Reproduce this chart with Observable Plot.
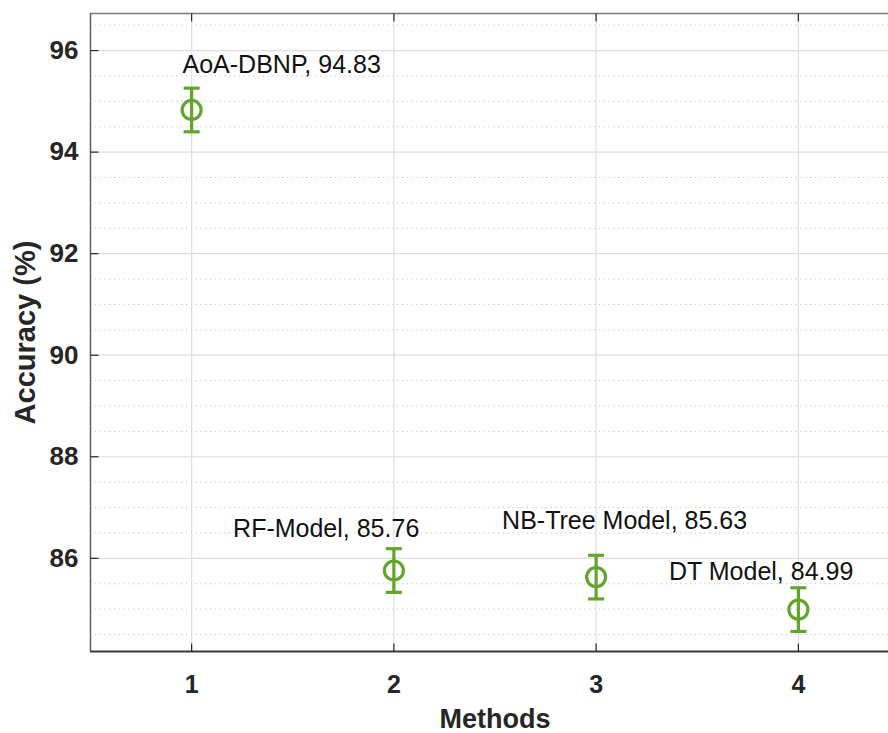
<!DOCTYPE html>
<html>
<head>
<meta charset="utf-8">
<script src="https://cdn.jsdelivr.net/npm/d3@7"></script>
<script src="https://cdn.jsdelivr.net/npm/@observablehq/plot@0.6"></script>
<style>
  html, body { margin: 0; padding: 0; background: white; overflow: hidden; width: 888px; }
  #chart { width: 888px; overflow: hidden; }
  #chart svg { max-width: none !important; }
</style>
</head>
<body>
<div id="chart"></div>
<script>
// ---- data ----
const methodNames = ["AoA-DBNP", "RF-Model", "NB-Tree Model", "DT Model"];
const methodIndex = [1, 2, 3, 4];
const accuracy = [94.83, 85.76, 85.63, 84.99];
const errorHalf = [0.43, 0.43, 0.43, 0.43];
// annotation anchor points (data units)
const labelX = [0.955, 1.205, 2.535, 3.36];
const labelY = [95.72, 86.58, 86.74, 85.74];
// axes
const xTicks = [1, 2, 3, 4];
const yTicks = [86, 88, 90, 92, 94, 96];
const xDomain = [0.5, 4.5];
const yDomain = [84.165, 96.73];
const xLabel = "Methods";
const yLabel = "Accuracy (%)";

const rows = methodIndex.map((x, i) => ({
  x, acc: accuracy[i], err: errorHalf[i],
  lx: labelX[i], ly: labelY[i],
  label: `${methodNames[i]}, ${accuracy[i].toFixed(2)}`
}));
const minorTicks = d3.range(84.5, 96.75, 0.5).filter(v => !yTicks.includes(v));

const green = "#63a42a";
const font = "'Liberation Sans', Arial, Helvetica, sans-serif";

const capSymbol = { draw(ctx) { ctx.moveTo(-8, 0); ctx.lineTo(8, 0); } };
const tickRight = { draw(ctx) { ctx.moveTo(0, 0); ctx.lineTo(8, 0); } };
const tickUp = { draw(ctx) { ctx.moveTo(0, 0); ctx.lineTo(0, -8); } };
const tickDown = { draw(ctx) { ctx.moveTo(0, 0); ctx.lineTo(0, 8); } };

const chart = Plot.plot({
  width: 901,
  height: 733,
  marginTop: 13,
  marginBottom: 82,
  marginLeft: 90,
  marginRight: 2,
  x: { domain: xDomain },
  y: { domain: yDomain },
  style: { fontFamily: font, background: "white" },
  marks: [
    Plot.gridY(minorTicks, { stroke: "#c4c4c4", strokeOpacity: 1, strokeWidth: 1, strokeDasharray: "1.3,3.5" }),
    Plot.gridY(yTicks, { stroke: "#dedede", strokeOpacity: 1, strokeWidth: 1.2 }),
    Plot.gridX(xTicks, { stroke: "#dedede", strokeOpacity: 1, strokeWidth: 1.2 }),
    Plot.ruleY([yDomain[1]], { stroke: "#7a7a7a", strokeWidth: 1.5 }),
    Plot.ruleX([xDomain[0]], { stroke: "#5e5e5e", strokeWidth: 1.5 }),
    Plot.ruleY([yDomain[0]], { stroke: "#3a3a3a", strokeWidth: 1.8 }),
    Plot.dot(yTicks, { y: d => d, frameAnchor: "left", symbol: tickRight, fill: "none", stroke: "#262626", strokeWidth: 1.2 }),
    Plot.dot(xTicks, { x: d => d, frameAnchor: "bottom", symbol: tickUp, fill: "none", stroke: "#262626", strokeWidth: 1.2 }),
    Plot.dot(xTicks, { x: d => d, frameAnchor: "top", symbol: tickDown, fill: "none", stroke: "#262626", strokeWidth: 1.2 }),
    Plot.axisY({ ticks: yTicks, tickSize: 0, tickPadding: 12, tickFormat: d => String(d), fontSize: 26, fontWeight: "bold", color: "#262626", label: null }),
    Plot.axisX({ ticks: xTicks, tickSize: 0, tickPadding: 24, tickFormat: d => String(d), fontSize: 25, fontWeight: "bold", color: "#262626", label: null }),
    Plot.text([yLabel], { text: d => d, frameAnchor: "left", dx: -65, rotate: -90, textAnchor: "middle", lineAnchor: "middle", fontSize: 29, fontWeight: "bold", fill: "#262626" }),
    Plot.text([xLabel], { text: d => d, frameAnchor: "bottom", dy: 68, textAnchor: "middle", lineAnchor: "middle", fontSize: 27, fontWeight: "bold", fill: "#262626" }),
    Plot.dot(rows, { x: "x", y: "acc", r: 9.5, fill: "none", stroke: green, strokeWidth: 3.2 }),
    Plot.ruleX(rows, { x: "x", y1: d => d.acc - d.err, y2: d => d.acc + d.err, stroke: green, strokeWidth: 3.2 }),
    Plot.dot(rows, { x: "x", y: d => d.acc + d.err, symbol: capSymbol, fill: "none", stroke: green, strokeWidth: 3.2 }),
    Plot.dot(rows, { x: "x", y: d => d.acc - d.err, symbol: capSymbol, fill: "none", stroke: green, strokeWidth: 3.2 }),
    Plot.text(rows, { x: "lx", y: "ly", text: "label", textAnchor: "start", lineAnchor: "middle", fontSize: 25, fill: "#111" })
  ]
});
document.getElementById("chart").appendChild(chart);
</script>
</body>
</html>
